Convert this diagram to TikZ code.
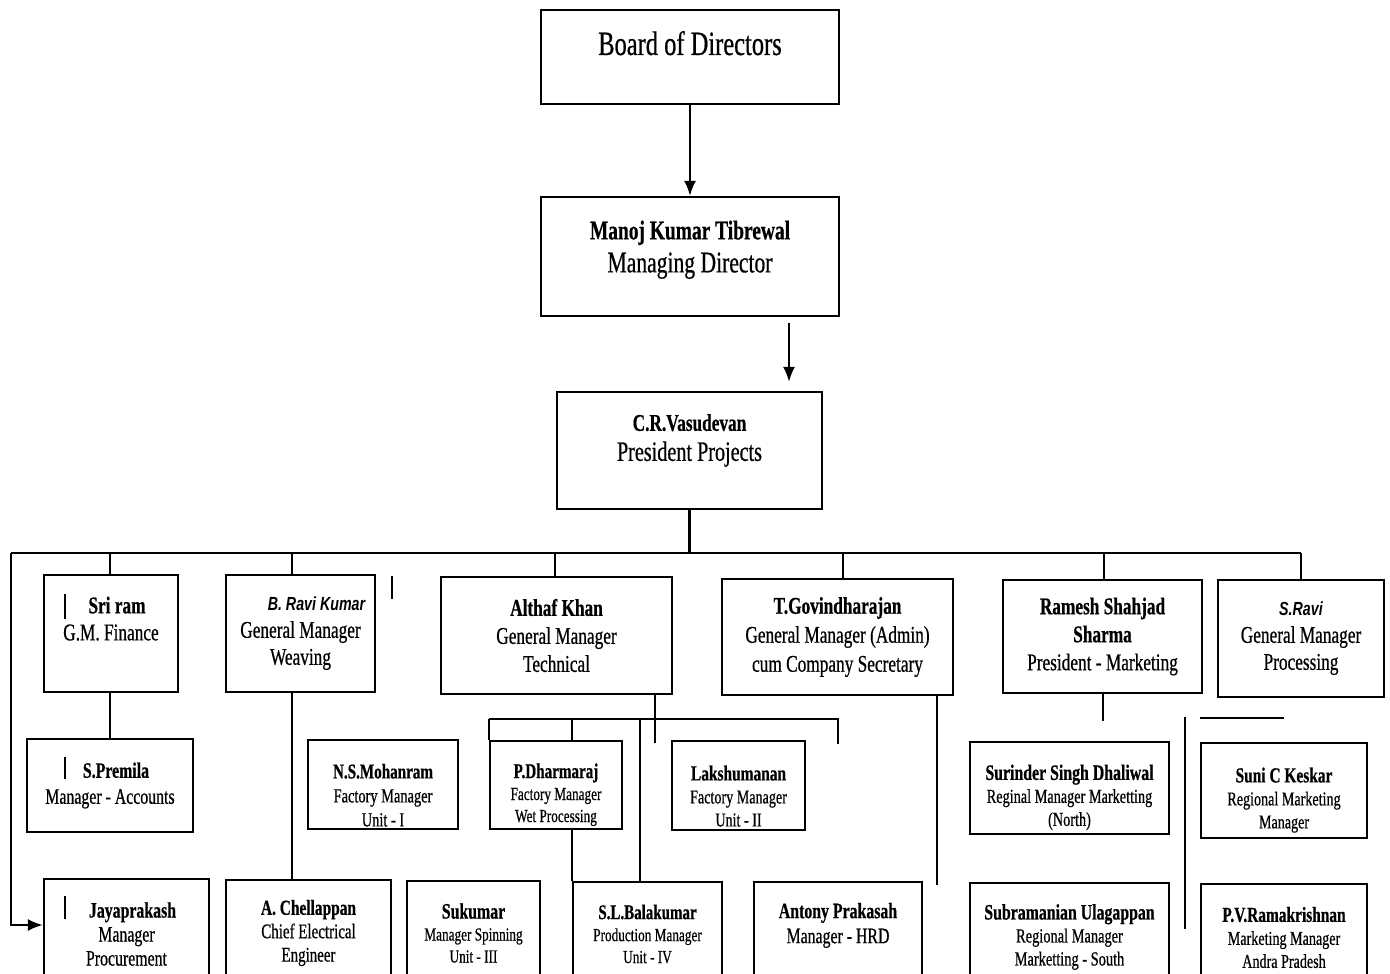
\documentclass[tikz,border=0pt]{standalone}
\usepackage{fontspec}
\setmainfont{Liberation Serif}[FakeStretch=0.72,
  UprightFeatures={FakeBold=0.6},BoldFeatures={FakeBold=0.6}]
\newfontfamily\arialbi{Liberation Sans}[FakeStretch=0.75]
\usetikzlibrary{arrows.meta}

\newcommand\sz[2]{\fontsize{#1}{#2}\selectfont}
\newcommand\nm[1]{{\bfseries #1}}
\newcommand\slnm[1]{{\arialbi\bfseries\itshape #1}}
\newcommand\raisetxt[1]{\rule[-#1]{0pt}{#1}}
\newcommand\lowertxt[1]{\rule{0pt}{#1}}

\begin{document}
\begin{tikzpicture}[
x=0.5pt,y=-0.5pt,
post/.style={
  draw,
  line width=1.1pt,
  align=center,
  inner sep=0pt
},
link/.style={line width=1.1pt},
arr/.style={line width=1.1pt,-{Latex[length=7.5pt,width=6pt]}},
tick/.style={line width=1.2pt}
]
\useasboundingbox (0,0) rectangle (1390,973);

% top of the chart
\node[post,minimum width=149pt,minimum height=47pt,font=\sz{17}{20}] (board) at (690,57)
  {Board of Directors\raisetxt{14pt}};
\node[post,minimum width=149pt,minimum height=59.5pt,font=\sz{15}{16.5}] (md) at (690,256.5)
  {{\sz{13.5}{16}\bfseries Manoj Kumar Tibrewal}\\Managing Director\raisetxt{10pt}};
\node[post,minimum width=132.5pt,minimum height=58.5pt,font=\sz{14}{15}] (vasu) at (689.5,450.5)
  {{\sz{12}{15}\bfseries C.R.Vasudevan}\\President Projects\raisetxt{13pt}};

% general managers
\node[post,minimum width=67pt,minimum height=58.5pt,font=\sz{12}{13.5}] (sriram) at (111,633.5)
  {\hspace*{6pt}\nm{Sri ram}\\G.M. Finance\raisetxt{15pt}};
\node[post,minimum width=74.5pt,minimum height=58.5pt,font=\sz{12}{13.5}] (ravik) at (300.5,633.5)
  {\hspace*{16pt}{\sz{9.5}{13.5}\slnm{B. Ravi Kumar}}\\General Manager\\Weaving};
\node[post,minimum width=115.5pt,minimum height=58.5pt,font=\sz{12}{14}] (althaf) at (556.5,635.5)
  {\nm{Althaf Khan}\\General Manager\\Technical};
\node[post,minimum width=115.5pt,minimum height=58pt,font=\sz{12}{14.5}] (govind) at (837.5,637)
  {\nm{T.Govindharajan}\\General Manager (Admin)\\cum Company Secretary};
\node[post,minimum width=99.5pt,minimum height=56.5pt,font=\sz{12}{14}] (ramesh) at (1102.5,636.5)
  {\nm{Ramesh Shahjad}\\\nm{Sharma}\\President - Marketing};
\node[post,minimum width=83pt,minimum height=58.5pt,font=\sz{12}{13.5}] (sravi) at (1301,638.5)
  {{\sz{9.5}{13.5}\slnm{S.Ravi}}\\General Manager\\Processing};

% managers
\node[post,minimum width=83pt,minimum height=46.5pt,font=\sz{11}{13}] (premila) at (110,785.5)
  {\hspace*{6pt}\nm{S.Premila}\\Manager - Accounts};
\node[post,minimum width=75pt,minimum height=44.5pt,font=\sz{10}{12}] (mohan) at (383,784.5)
  {\lowertxt{18pt}{\sz{10.5}{12}\bfseries N.S.Mohanram}\\Factory Manager\\Unit - I};
\node[post,minimum width=66pt,minimum height=44pt,font=\sz{9.2}{11}] (dharma) at (556,785)
  {\lowertxt{17pt}{\sz{10.5}{12.5}\bfseries P.Dharmaraj}\\Factory Manager\\Wet Processing};
\node[post,minimum width=66.5pt,minimum height=44.5pt,font=\sz{9.8}{11.5}] (laksh) at (738.5,785.5)
  {\lowertxt{18pt}{\sz{10.7}{12.5}\bfseries Lakshumanan}\\Factory Manager\\Unit - II};
\node[post,minimum width=99.5pt,minimum height=46pt,font=\sz{9.9}{11.5}] (surinder) at (1069.5,788)
  {\lowertxt{17pt}{\sz{11}{12.5}\bfseries Surinder Singh Dhaliwal}\\Reginal Manager Marketting\\(North)};
\node[post,minimum width=83pt,minimum height=47.5pt,font=\sz{9.8}{11.5}] (suni) at (1284,790.5)
  {\lowertxt{17pt}{\sz{10.7}{12.5}\bfseries Suni C Keskar}\\Regional Marketing\\Manager};

% lowest row
\node[post,minimum width=82.5pt,minimum height=55pt,font=\sz{11}{12}] (jaya) at (126.5,934)
  {\hspace*{6pt}\nm{Jayaprakash}\\Manager\\Procurement};
\node[post,minimum width=82.5pt,minimum height=53pt,font=\sz{10.4}{11.7}] (chell) at (308.5,933)
  {{\sz{10.7}{11.7}\bfseries A. Chellappan}\\Chief Electrical\\Engineer};
\node[post,minimum width=66.5pt,minimum height=52pt,font=\sz{9.2}{11}] (suku) at (473.5,933)
  {{\sz{11}{12}\bfseries Sukumar}\\Manager Spinning\\Unit - III};
\node[post,minimum width=74.5pt,minimum height=52pt,font=\sz{9.2}{11}] (bala) at (647.5,934)
  {{\sz{10.4}{12}\bfseries S.L.Balakumar}\\Production Manager\\Unit - IV};
\node[post,minimum width=84pt,minimum height=55pt,font=\sz{11}{12.5}] (antony) at (838,937)
  {\nm{Antony Prakasah}\\Manager - HRD\raisetxt{14pt}};
\node[post,minimum width=99.5pt,minimum height=54pt,font=\sz{10}{11.5}] (subra) at (1069.5,937)
  {{\sz{11}{12}\bfseries Subramanian Ulagappan}\\Regional Manager\\Marketting - South};
\node[post,minimum width=83pt,minimum height=53.5pt,font=\sz{9.8}{11.5}] (pvr) at (1284,937.5)
  {{\sz{10.7}{12}\bfseries P.V.Ramakrishnan}\\Marketing Manager\\Andra Pradesh};

% connectors
\draw[arr] (board) -- (md);
\draw[arr] ([xshift=49.5pt,yshift=-3pt]md.south) -- ([xshift=49.75pt,yshift=4.5pt]vasu.north);

\coordinate (busL) at (11,553);
\coordinate (busR) at (1301,553);
\draw[link] (vasu.south) -- (vasu.south |- busL);
\draw[link] (busL) -- (busR);
\draw[arr] (busL) |- ([yshift=4.5pt]jaya.west);
\foreach \n/\dx in {sriram/-1,ravik/-8.5,althaf/-1.5,govind/5.5,ramesh/1.5,sravi/0}
  \draw[link] (\n.north) ++(\dx,0) coordinate (top) -- (top |- busL);

\draw[link] (premila.north |- sriram.south) -- (premila.north);
\draw[link] (ravik.south) ++(-8.5,0) coordinate (rk) -- (rk |- chell.north);

% technical branch
\path (althaf.south) ++(98.5,24) coordinate (ta);
\draw[link] (ta |- althaf.south) -- ++(0,48);
\draw[link] (dharma.north west |- ta) -- (ta) -- ++(183,0) coordinate (tr) -- ++(0,25);
\draw[link] (dharma.north west |- ta) -- (dharma.north west);
\draw[link] (bala.north west |- ta) -- (bala.north west |- dharma.north);
\draw[link] (bala.north west |- dharma.south) -- (bala.north west);
\draw[link] (bala.north) ++(-7.5,0) coordinate (bt) -- (bt |- ta);

\draw[link] (govind.south) ++(99.5,0) -- ++(0,189);
\draw[link] (ramesh.south) ++(0.5,0) -- ++(0,27);
\draw[link] (suni.north west) ++(-15,-25) -- ++(0,212);
\draw[link] (suni.north west) ++(0,-24) -- ++(84,0);

% stray marks
\draw[tick] (sriram.north west) ++(22,20) -- ++(0,25);
\draw[tick] (ravik.north east) ++(16,2) -- ++(0,23);
\draw[tick] (premila.north west) ++(39,19) -- ++(0,22);
\draw[tick] (jaya.north west) ++(22,18) -- ++(0,23);

\end{tikzpicture}
\end{document}
